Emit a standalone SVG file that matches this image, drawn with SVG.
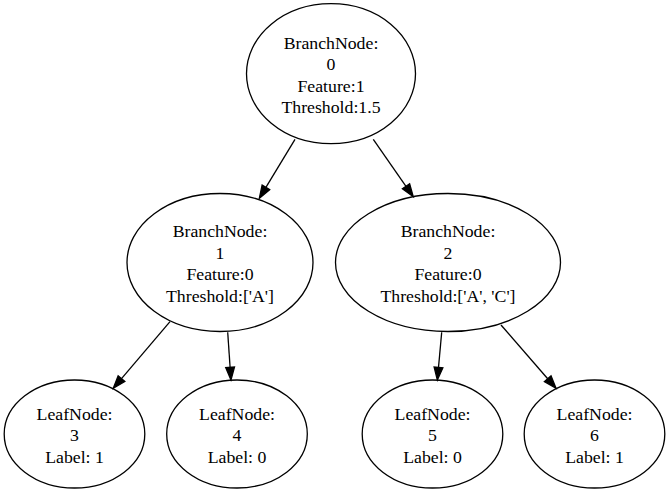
<svg xmlns="http://www.w3.org/2000/svg" width="670" height="494" viewBox="0 0 670 494">
<style>
.node ellipse{fill:none;stroke:#000;stroke-width:1.3}
.node text{font-family:"Liberation Serif","Times New Roman",serif;font-size:17.75px;fill:#000;text-anchor:middle}
.edge line{stroke:#000;stroke-width:1.3}
</style>
<defs>
<marker id="arr" markerUnits="userSpaceOnUse" markerWidth="14" markerHeight="10" refX="0" refY="0" viewBox="0 -5 14 10" orient="auto" overflow="visible">
<path d="M0,-4.4 L12.7,0 L0,4.4 Z" fill="#000" stroke="#000" stroke-width="1.3"/>
</marker>
</defs>
<rect width="670" height="494" fill="#fff"/>
<g id="edges" class="edge">
<line x1="295" y1="139.3" x2="265.9" y2="187.4" marker-end="url(#arr)"/>
<line x1="373.3" y1="139.3" x2="406.0" y2="186.3" marker-end="url(#arr)"/>
<line x1="170" y1="321.7" x2="121.5" y2="378.6" marker-end="url(#arr)"/>
<line x1="227.7" y1="332.3" x2="230.1" y2="367.3" marker-end="url(#arr)"/>
<line x1="441.7" y1="332.3" x2="438.5" y2="367.4" marker-end="url(#arr)"/>
<line x1="501" y1="325" x2="547.7" y2="378.7" marker-end="url(#arr)"/>
</g>
<g id="node0" class="node">
<ellipse cx="331" cy="73.7" rx="84.5" ry="70"/>
<text x="331" y="48.5">BranchNode:</text>
<text x="331" y="70">0</text>
<text x="331" y="91.5">Feature:1</text>
<text x="331" y="113">Threshold:1.5</text>
</g>
<g id="node1" class="node">
<ellipse cx="220" cy="262.5" rx="93" ry="69"/>
<text x="220" y="237.3">BranchNode:</text>
<text x="220" y="258.8">1</text>
<text x="220" y="280.3">Feature:0</text>
<text x="220" y="301.8">Threshold:['A']</text>
</g>
<g id="node2" class="node">
<ellipse cx="448" cy="262.5" rx="112.5" ry="69"/>
<text x="448" y="237.3">BranchNode:</text>
<text x="448" y="258.8">2</text>
<text x="448" y="280.3">Feature:0</text>
<text x="448" y="301.8">Threshold:['A', 'C']</text>
</g>
<g id="node3" class="node">
<ellipse cx="74.5" cy="434" rx="70.3" ry="54"/>
<text x="74.5" y="419.5">LeafNode:</text>
<text x="74.5" y="441">3</text>
<text x="74.5" y="462.5">Label: 1</text>
</g>
<g id="node4" class="node">
<ellipse cx="237" cy="434" rx="70.3" ry="54"/>
<text x="237" y="419.5">LeafNode:</text>
<text x="237" y="441">4</text>
<text x="237" y="462.5">Label: 0</text>
</g>
<g id="node5" class="node">
<ellipse cx="432.5" cy="434" rx="70.3" ry="54"/>
<text x="432.5" y="419.5">LeafNode:</text>
<text x="432.5" y="441">5</text>
<text x="432.5" y="462.5">Label: 0</text>
</g>
<g id="node6" class="node">
<ellipse cx="594.5" cy="434" rx="70.3" ry="54"/>
<text x="594.5" y="419.5">LeafNode:</text>
<text x="594.5" y="441">6</text>
<text x="594.5" y="462.5">Label: 1</text>
</g>
</svg>
